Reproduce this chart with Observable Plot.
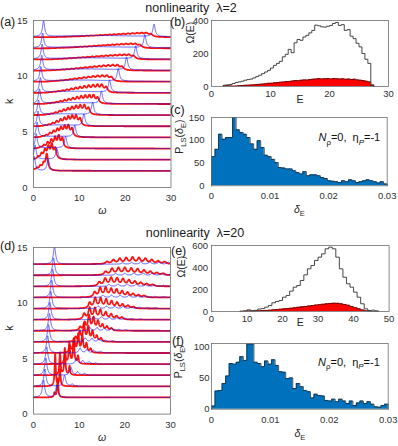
<!DOCTYPE html>
<html><head><meta charset="utf-8">
<script src="https://cdn.jsdelivr.net/npm/d3@7"></script>
<script src="https://cdn.jsdelivr.net/npm/@observablehq/plot@0.6"></script>
<style>
body{margin:0;background:#fff;font-family:"Liberation Sans",Arial,sans-serif;}
#fig{position:relative;width:398px;height:446px;overflow:hidden;background:#fff;}
.lbl{position:absolute;color:#1a1a1a;white-space:pre;line-height:1;font-family:"Liberation Sans",Arial,sans-serif;}
</style></head><body><div id="fig"></div><script>
// ---------- shared ----------
const rowK = [1.5,2.5,3.5,4.5,5.5,6.5,7.5,8.5,9.5,10.5,11.5,12.5,13.5];
const kTicks = [0,5,10,15];
const omegaTicks = [0,10,20,30];

// ---------- panel (a): lambda = 2 spectra ----------
const aBlueLeft   = [0.15,0.35,0.6,0.8,1.0,1.1,1.3,1.5,1.6,1.8,1.9,2.0,2.2];
const aBlueLeftH  = [1.3,1.3,1.3,1.3,1.3,1.3,1.3,1.3,1.3,1.3,1.3,1.3,1.4];
const aBlueRight  = [3.2,5.1,7.0,9.0,11.0,12.9,14.8,16.6,18.5,20.3,22.3,24.3,26.3];
const aBlueRightH = [1.0,1.0,1.05,1.05,1.05,1.1,1.1,1.1,1.1,1.15,1.15,1.15,1.1];
const aBlueShelf  = [0.0,0.05,0.08,0.1,0.12,0.12,0.13,0.14,0.15,0.15,0.15,0.15,0.15];
const aRedStart = [0.1,1.0,1.5,2.0,2.5,3.0,3.2,3.5,4.0,4.3,4.8,5.2,5.6];
const aRedStep  = [0.7,0.75,0.8,0.8,0.85,0.9,0.9,0.95,1,1,1,1,1];
const aRedWidth = [0.3,0.3,0.3,0.32,0.33,0.35,0.35,0.38,0.45,0.45,0.48,0.5,0.5];
const aRedH = [
  [0.1,0.2,0.35,0.55,1.45],
  [0.2,0.45,0.75,1.0,1.2,0.9],
  [0.1,0.25,0.45,0.65,0.85,1.0,0.85],
  [0.08,0.15,0.3,0.45,0.6,0.72,0.82,0.9,0.7],
  [0.06,0.12,0.22,0.35,0.48,0.6,0.7,0.76,0.8,0.62],
  [0.05,0.1,0.18,0.28,0.38,0.48,0.57,0.65,0.7,0.74,0.57],
  [0.04,0.08,0.13,0.2,0.27,0.34,0.41,0.48,0.54,0.59,0.63,0.66,0.5],
  [0.04,0.07,0.11,0.16,0.22,0.28,0.34,0.4,0.45,0.5,0.54,0.57,0.6,0.45],
  [0.03,0.05,0.08,0.11,0.15,0.19,0.23,0.27,0.31,0.35,0.38,0.41,0.43,0.35],
  [0.03,0.04,0.06,0.08,0.11,0.14,0.17,0.2,0.23,0.26,0.29,0.32,0.35,0.37,0.39,0.3],
  [0.02,0.03,0.05,0.07,0.09,0.11,0.13,0.15,0.17,0.19,0.21,0.23,0.25,0.27,0.29,0.31,0.33,0.26],
  [0.02,0.03,0.04,0.05,0.07,0.09,0.1,0.12,0.14,0.16,0.18,0.2,0.21,0.23,0.25,0.27,0.29,0.3,0.24],
  [0.02,0.02,0.03,0.04,0.05,0.06,0.08,0.09,0.1,0.12,0.13,0.15,0.16,0.18,0.2,0.21,0.23,0.25,0.27,0.29,0.22]
];

// ---------- panel (d): lambda = 20 spectra ----------
const dBlueLeft  = [2.2,2.5,2.7,2.9,3.1,3.3,3.5,3.6,3.8,4.0,4.2,4.4,4.6];
const dBlueLeftH = [1.55,1.55,1.55,1.55,1.55,1.55,1.55,1.55,1.55,1.55,1.55,1.55,1.55];
const dBlueCombStart = [5.1,6.8,8.2,9.4,10.2,11.3,12.3,13.2,14.2,15.2,16.5,18.0,19.5];
const dBlueCombStep  = [1.6,1.7,1.5,1.4,1.5,1.5,1.6,1.7,1.8,1.9,2.0,2.0,2.0];
const dBlueCombH = [
  [1.1],[1.0,0.2],[0.7,0.3,0.15],[0.5,0.3,0.2,0.1],[0.45,0.3,0.25,0.15],
  [0.35,0.3,0.25,0.15,0.1],[0.3,0.28,0.22,0.18,0.12,0.08],[0.25,0.25,0.2,0.18,0.14,0.1,0.07],
  [0.22,0.22,0.2,0.18,0.15,0.12,0.08,0.06],[0.2,0.2,0.2,0.18,0.15,0.12,0.1,0.08],
  [0.18,0.2,0.2,0.18,0.15,0.12,0.1],[0.15,0.18,0.2,0.2,0.18,0.15,0.12],[0.12,0.15,0.18,0.2,0.2,0.18]
];
const dRedStart = [4.6,4.75,5.8,6.9,8.0,9.2,10.2,11.1,12.3,13.4,14.4,15.8,16.1];
const dRedStep  = [0.7,1.05,1.05,0.95,0.9,0.93,0.98,1.18,1.2,1.2,1.3,1.4,1.4];
const dRedWidth = [0.15,0.15,0.15,0.18,0.22,0.25,0.28,0.32,0.33,0.35,0.38,0.4,0.4];
const dRedH = [
  [0.4,1.7],
  [2.9,1.5],
  [2.0,2.4,0.8],
  [1.0,1.9,2.2,0.7],
  [0.6,1.2,1.6,1.5,0.8,0.35],
  [0.4,0.9,1.5,1.3,0.9,0.5,0.3],
  [0.3,0.7,1.3,1.1,0.8,0.5,0.35,0.2],
  [0.5,1.0,0.95,0.8,0.6,0.45,0.3,0.2],
  [0.5,0.9,0.85,0.75,0.6,0.5,0.35,0.25,0.15],
  [0.45,0.8,0.8,0.7,0.65,0.5,0.4,0.3,0.2,0.15],
  [0.35,0.65,0.7,0.65,0.6,0.5,0.4,0.3,0.2,0.15],
  [0.3,0.55,0.6,0.6,0.55,0.5,0.4,0.3,0.2,0.15],
  [0.2,0.35,0.45,0.5,0.55,0.5,0.45,0.35,0.25,0.2]
];

// ---------- panel (b): Omega(E), lambda = 2 ----------
const bBinStart = 2.0, bBinWidth = 0.5;
const bTotal = [8,10,12,18,24,28,32,38,42,45,52,60,68,78,88,98,112,128,140,152,
  180,195,225,205,265,285,280,300,310,325,340,372,368,362,360,365,370,382,388,370,
  375,340,345,305,290,262,240,200,165,140,10];
const bRed = [3,5,3,2,3,4,6,7,8,9,10,12,13,15,17,19,20,22,24,26,
  27,30,31,33,36,35,38,40,39,42,44,45,48,46,47,48,46,48,47,45,
  47,44,45,43,44,40,38,36,32,28,8];
const bTicksX = [0,10,20,30], bTicksY = [0,200,400];

// ---------- panel (c): P_LS(delta_E), lambda = 2 ----------
const cBinStart = 0, cBinWidth = 0.0006;
const cCounts = [64,80,113,102,106,106,150,123,117,113,106,92,80,99,84,67,64,58,51,40,
  39,37,37,33,29,26,31,22,24,24,22,18,16,11,10,9,7,11,9,13,
  11,7,9,11,13,11,9,6,9,4];
const cTicksX = [0,0.01,0.02,0.03], cTicksY = [0,50,100,150];

// ---------- panel (e): Omega(E), lambda = 20 ----------
const eBinStart = 8, eBinWidth = 1;
const eTotal = [3,5,15,8,10,22,26,40,55,79,91,100,130,145,185,221,236,282,333,388,
  418,464,494,524,570,585,570,494,388,312,252,221,176,130,70,24,9,12,6];
const eRed = [1,2,4,3,4,6,8,10,12,15,18,21,24,27,30,34,38,42,46,50,
  54,58,62,66,70,73,75,74,70,64,56,46,35,24,14,6,2,1,0];
const eTicksX = [0,10,20,30,40,50], eTicksY = [0,200,400,600];

// ---------- panel (f): P_LS(delta_E), lambda = 20 ----------
const fBinStart = 0, fBinWidth = 0.0006;
const fCounts = [5,29,30,41,53,73,72,75,84,78,104,104,75,73,68,77,72,79,70,60,
  59,49,50,33,41,36,30,28,18,24,22,21,14,13,16,12,16,13,9,13,
  6,10,13,9,12,8,4,3,6,8];
const fTicksX = [0,0.01,0.02,0.03], fTicksY = [0,50,100];

// ---------- helpers ----------
const FONT = "'Liberation Sans', Arial, Helvetica, sans-serif";
const grid = d3.range(0, 30.0001, 0.025);
function spectrumRows(peakRows) {
  const out = [];
  peakRows.forEach((peaks, j) => {
    for (const w of grid) {
      let v = rowK[j];
      for (const [p, h, g] of peaks) { const d = (w - p) / g; v += h / (1 + d * d); }
      out.push({row: j, w, v});
    }
  });
  return out;
}
function comb(start, step, hs, g) { return hs.map((h, i) => [start + i * step, h, g]); }
function stepPoints(x0, bw, vals) {
  const pts = [{x: x0, y: 0}];
  vals.forEach((v, i) => { pts.push({x: x0 + i * bw, y: v}); pts.push({x: x0 + (i + 1) * bw, y: v}); });
  pts.push({x: x0 + vals.length * bw, y: 0});
  return pts;
}

const aRedPeaks = aRedH.map((hs, j) => comb(aRedStart[j], aRedStep[j], hs, aRedWidth[j]));
const aBluePeaks = rowK.map((_, j) => [
  [aBlueLeft[j], aBlueLeftH[j], 0.28], [aBlueRight[j], aBlueRightH[j], 0.3],
  [(aBlueLeft[j] + aBlueRight[j]) / 2, aBlueShelf[j], Math.max(0.3, (aBlueRight[j] - aBlueLeft[j]) / 2)]
]);
const dRedPeaks = dRedH.map((hs, j) => comb(dRedStart[j], dRedStep[j], hs, dRedWidth[j]));
const dBluePeaks = rowK.map((_, j) => [[dBlueLeft[j], dBlueLeftH[j], 0.3],
  ...comb(dBlueCombStart[j], dBlueCombStep[j], dBlueCombH[j], 0.3)]);

const fig = document.getElementById("fig");

function rich(svg, marker, parts, fs) {
  d3.select(svg).selectAll("text").each(function () {
    if (this.textContent !== marker) return;
    const t = d3.select(this); t.text(null);
    let down = false;
    for (const p of parts) {
      const ts = t.append("tspan").text(p.t);
      if (p.i) ts.attr("font-style", "italic");
      if (p.sub) { ts.attr("font-size", (fs * 0.72) + "px"); if (!down) { ts.attr("dy", fs * 0.3); down = true; } }
      else if (down) { ts.attr("dy", -fs * 0.3); down = false; }
    }
  });
}

function panel(cfg) {
  const [x0, y0, x1, y1] = cfg.frame;
  const ml = 45, mr = 10, mt = 10, mb = 36;
  const svg = Plot.plot({
    width: x1 - x0 + ml + mr, height: y1 - y0 + mt + mb,
    marginLeft: ml, marginRight: mr, marginTop: mt, marginBottom: mb,
    style: {background: "transparent", fontFamily: FONT, fontSize: "9.5px", color: "#303030", overflow: "visible"},
    x: {domain: cfg.xDomain, ticks: cfg.xTicks, tickFormat: d => String(d), label: null, tickSize: 0, tickPadding: cfg.xPad},
    y: {domain: cfg.yDomain, ticks: cfg.yTicks, tickFormat: d => String(d), label: null, tickSize: 0, tickPadding: cfg.yPad},
    marks: [
      ...cfg.marks,
      Plot.frame({stroke: "#6e6e6e", strokeWidth: 0.8}),
      Plot.text([cfg.xLabel], {frameAnchor: "bottom", text: d => d, dy: cfg.xLabelDy, fontSize: 10.5, fill: "#262626", fontStyle: cfg.xItalic ? "italic" : "normal"}),
      Plot.text([cfg.yLabel], {frameAnchor: "left", text: d => d, rotate: -90, dx: cfg.yLabelDx, dy: cfg.yLabelDy, fontSize: 10.5, fill: "#262626"}),
      ...(cfg.extra || [])
    ]
  });
  svg.style.position = "absolute";
  svg.style.left = (x0 - ml) + "px";
  svg.style.top = (y0 - mt) + "px";
  (cfg.rich || []).forEach(([m, parts, fs]) => rich(svg, m, parts, fs));
  fig.appendChild(svg);
}

function spectraMarks(redPeaks, bluePeaks) {
  return [
    Plot.line(spectrumRows(redPeaks), {x: "w", y: "v", z: "row", stroke: "#ff0000", strokeWidth: 1.8, strokeOpacity: 0.92, clip: true}),
    Plot.line(spectrumRows(bluePeaks), {x: "w", y: "v", z: "row", stroke: "#1f1fff", strokeWidth: 0.9, strokeOpacity: 0.75, clip: true})
  ];
}
function omegaHistMarks(x0, bw, total, red) {
  const t = stepPoints(x0, bw, total), r = stepPoints(x0, bw, red);
  return [
    Plot.areaY(r, {x: "x", y1: d => 0, y2: "y", fill: "#ff0000"}),
    Plot.line(r, {x: "x", y: "y", stroke: "#3a1010", strokeWidth: 0.7}),
    Plot.line(t, {x: "x", y: "y", stroke: "#333", strokeWidth: 0.9})
  ];
}
function lsHistMarks(x0, bw, counts) {
  const p = stepPoints(x0, bw, counts);
  return [
    Plot.areaY(p, {x: "x", y1: d => 0, y2: "y", fill: "#0072BD"}),
    Plot.line(p, {x: "x", y: "y", stroke: "#1b2a3a", strokeWidth: 0.8})
  ];
}
const deltaParts = [{t: "δ", i: true}, {t: "E", sub: true}];
const plsParts = [{t: "P"}, {t: "LS", sub: true}, {t: "("}, {t: "δ", i: true}, {t: "E", sub: true}, {t: ")"}];
const noteText = "N_ρ=0,  η_P=-1";
const noteParts = [{t: "N", i: true}, {t: "ρ", sub: true}, {t: "=0,  η"}, {t: "P", sub: true, i: true}, {t: "=-1"}];

// (a)
panel({frame: [32.5, 20, 170, 187], xDomain: [0, 30], yDomain: [0, 15], xTicks: omegaTicks, yTicks: kTicks,
  xPad: 6.4, yPad: 6, xLabel: "ω", xItalic: true, xLabelDy: 26, yLabel: "k", yLabelDx: -23.5, yLabelDy: 0,
  marks: spectraMarks(aRedPeaks, aBluePeaks)});
// (d)
panel({frame: [33.3, 246.7, 170.3, 413.3], xDomain: [0, 30], yDomain: [0, 15], xTicks: omegaTicks, yTicks: kTicks,
  xPad: 7.5, yPad: 6, xLabel: "ω", xItalic: true, xLabelDy: 26.7, yLabel: "k", yLabelDx: -24, yLabelDy: 0,
  marks: spectraMarks(dRedPeaks, dBluePeaks)});
// (b)
panel({frame: [210.7, 20, 387.7, 86], xDomain: [0, 30], yDomain: [0, 400], xTicks: bTicksX, yTicks: bTicksY,
  xPad: 3.5, yPad: 3, xLabel: "E", xLabelDy: 16, yLabel: "Ω(E)", yLabelDx: -21, yLabelDy: -10,
  marks: omegaHistMarks(bBinStart, bBinWidth, bTotal, bRed)});
// (c)
panel({frame: [211, 116.7, 386.7, 185], xDomain: [0, 0.03], yDomain: [0, 150], xTicks: cTicksX, yTicks: cTicksY,
  xPad: 6.4, yPad: 7, xLabel: "δ_E", xLabelDy: 27, yLabel: "P_LS(δ_E)", yLabelDx: -32, yLabelDy: 2,
  marks: lsHistMarks(cBinStart, cBinWidth, cCounts),
  extra: [Plot.text([noteText], {frameAnchor: "top-right", text: d => d, dx: -7, dy: 16, textAnchor: "end", fontSize: 11, fill: "#111"})],
  rich: [["δ_E", deltaParts, 10.5], ["P_LS(δ_E)", plsParts, 10.5], [noteText, noteParts, 11]]});
// (e)
panel({frame: [210.7, 245, 388.3, 311], xDomain: [0, 50], yDomain: [0, 600], xTicks: eTicksX, yTicks: eTicksY,
  xPad: 4, yPad: 3.5, xLabel: "E", xLabelDy: 15, yLabel: "Ω(E)", yLabelDx: -30, yLabelDy: -1,
  marks: omegaHistMarks(eBinStart, eBinWidth, eTotal, eRed)});
// (f)
panel({frame: [211, 343.3, 387.7, 409], xDomain: [0, 0.03], yDomain: [0, 105], xTicks: fTicksX, yTicks: fTicksY,
  xPad: 7.4, yPad: 2, xLabel: "δ_E", xLabelDy: 28, yLabel: "P_LS(δ_E)", yLabelDx: -33, yLabelDy: 2,
  marks: lsHistMarks(fBinStart, fBinWidth, fCounts),
  extra: [Plot.text([noteText], {frameAnchor: "top-right", text: d => d, dx: -8.4, dy: 14.5, textAnchor: "end", fontSize: 11, fill: "#111"})],
  rich: [["δ_E", deltaParts, 10.5], ["P_LS(δ_E)", plsParts, 10.5], [noteText, noteParts, 11]]});

// titles and panel letters
function label(text, x, y, size, anchor) {
  const d = document.createElement("div");
  d.className = "lbl"; d.textContent = text;
  d.style.fontSize = size + "px";
  d.style.left = x + "px"; d.style.top = y + "px";
  d.style.transform = anchor === "center" ? "translate(-50%,-50%)" : "translate(0,-50%)";
  fig.appendChild(d);
}
label("nonlinearity  λ=2", 191, 8, 12.5, "center");
label("nonlinearity  λ=20", 195, 233, 12.5, "center");
label("(a)", 0, 22, 12.5);
label("(b)", 170, 22, 12.5);
label("(c)", 170, 110, 12.5);
label("(d)", 0, 246, 12.5);
label("(e)", 171, 251, 12.5);
label("(f)", 172, 341, 12.5);
</script></body></html>
